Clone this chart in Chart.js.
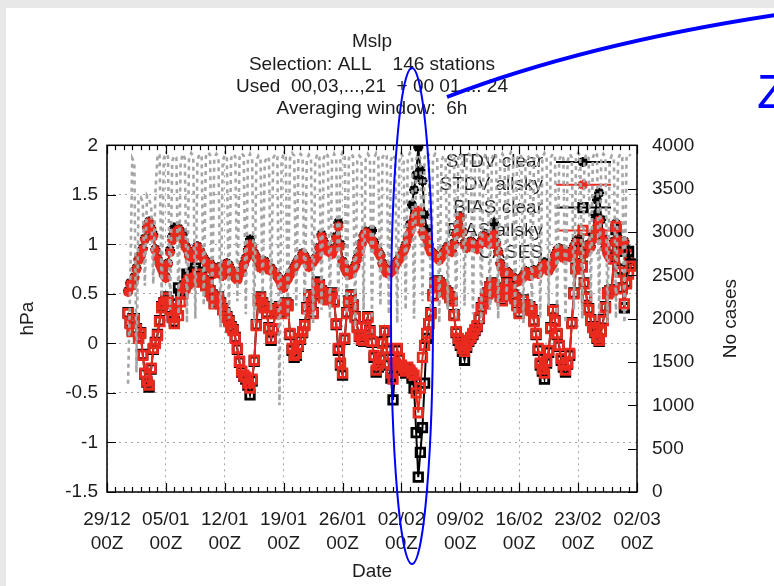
<!DOCTYPE html>
<html>
<head>
<meta charset="utf-8">
<script src="https://cdn.jsdelivr.net/npm/chart.js@4.4.1/dist/chart.umd.min.js"></script>
<style>
  html, body { margin: 0; padding: 0; background: #e8e8e8; }
  #panel { position: absolute; left: 6px; top: 8px; width: 768px; height: 578px; background: #fff; }
  #mslpChart { position: absolute; left: 0; top: 0; }
</style>
</head>
<body>
<div id="panel"></div>
<canvas id="mslpChart" width="774" height="586"></canvas>
<script>
// Mslp verification, 146 stations, 6h averaging window
const titleLines = ['Mslp', 'Selection: ALL    146 stations', 'Used  00,03,...,21  + 00 01 ... 24', 'Averaging window:  6h'];
const weekLabels = [['29/12', '00Z'], ['05/01', '00Z'], ['12/01', '00Z'], ['19/01', '00Z'], ['26/01', '00Z'],
                    ['02/02', '00Z'], ['09/02', '00Z'], ['16/02', '00Z'], ['23/02', '00Z'], ['02/03', '00Z']];

// first sample in days since 29/12 00Z, then one sample every 6h
const firstDay = 2.5, stepDays = 0.25;

const stdvClear = [
  0.53, 0.61, 0.59, 0.67, 0.76, 0.85, 0.89, 0.96, 1.06, 1.17,
  1.23, 1.16, 1.10, 0.95, 0.86, 0.81, 0.76, 0.70, 0.67, 0.81,
  0.94, 1.08, 1.17, 1.12, 1.16, 1.13, 1.10, 1.00, 0.96, 0.89,
  0.91, 0.87, 0.89, 0.98, 0.95, 0.90, 0.86, 0.83, 0.78, 0.81,
  0.75, 0.71, 0.73, 0.77, 0.71, 0.69, 0.75, 0.81, 0.79, 0.74,
  0.71, 0.67, 0.65, 0.71, 0.73, 0.80, 0.86, 0.95, 1.05, 0.98,
  0.91, 0.87, 0.83, 0.77, 0.78, 0.83, 0.79, 0.75, 0.76, 0.73,
  0.71, 0.68, 0.65, 0.59, 0.57, 0.63, 0.66, 0.70, 0.73, 0.77,
  0.81, 0.85, 0.86, 0.91, 0.88, 0.83, 0.78, 0.81, 0.83, 0.86,
  0.88, 0.97, 1.10, 1.03, 0.98, 0.94, 0.93, 0.91, 0.96, 1.08,
  1.22, 1.00, 0.83, 0.77, 0.72, 0.70, 0.71, 0.75, 0.79, 0.86,
  0.93, 1.01, 1.09, 1.13, 1.12, 1.10, 1.14, 1.02, 0.96, 0.93,
  0.89, 0.81, 0.76, 0.72, 0.71, 0.73, 0.75, 0.79, 0.83, 0.86,
  0.89, 0.94, 0.99, 1.08, 1.20, 1.40, 1.55, 1.70, 1.98, 1.75,
  1.64, 1.30, 1.15, 1.00, 0.93, 0.91, 0.89, 0.87, 0.85, 0.88,
  0.91, 0.95, 0.98, 0.96, 0.93, 1.01, 1.11, 1.20, 1.28, 1.13,
  1.01, 0.97, 0.99, 1.03, 1.01, 0.98, 0.96, 1.00, 1.03, 1.09,
  1.06, 1.03, 1.01, 1.06, 1.22, 1.02, 0.93, 0.81, 0.75, 0.71,
  0.73, 0.71, 0.69, 0.67, 0.65, 0.63, 0.64, 0.66, 0.68, 0.73,
  0.71, 0.69, 0.71, 0.74, 0.73, 0.71, 0.75, 0.79, 0.82, 0.77,
  0.74, 0.78, 0.81, 0.89, 0.94, 0.96, 0.91, 0.87, 0.89, 0.92,
  0.88, 0.93, 0.98, 1.03, 1.05, 0.98, 0.93, 0.91, 0.96, 1.00,
  0.98, 1.10, 1.30, 1.45, 1.52, 1.25, 1.06, 0.97, 0.91, 0.87,
  0.88, 1.03, 1.21, 1.06, 0.94, 0.98, 1.03, 0.95, 0.86, 0.83
];
const stdvAllsky = [
  0.52, 0.60, 0.58, 0.66, 0.75, 0.84, 0.88, 0.95, 1.05, 1.16,
  1.22, 1.15, 1.08, 0.94, 0.85, 0.80, 0.75, 0.69, 0.66, 0.80,
  0.92, 1.04, 1.12, 1.08, 1.15, 1.10, 1.05, 0.98, 0.95, 0.88,
  0.90, 0.86, 0.88, 0.97, 0.94, 0.89, 0.85, 0.82, 0.77, 0.80,
  0.74, 0.70, 0.72, 0.76, 0.70, 0.68, 0.74, 0.80, 0.78, 0.73,
  0.70, 0.66, 0.64, 0.70, 0.72, 0.79, 0.85, 0.93, 1.00, 0.97,
  0.90, 0.86, 0.82, 0.76, 0.77, 0.82, 0.78, 0.74, 0.75, 0.72,
  0.70, 0.67, 0.64, 0.58, 0.56, 0.62, 0.65, 0.69, 0.72, 0.76,
  0.80, 0.84, 0.85, 0.90, 0.87, 0.82, 0.77, 0.80, 0.82, 0.85,
  0.87, 0.96, 1.08, 1.02, 0.97, 0.93, 0.92, 0.90, 0.95, 1.06,
  1.18, 0.98, 0.82, 0.76, 0.72, 0.69, 0.70, 0.74, 0.78, 0.85,
  0.92, 1.00, 1.08, 1.12, 1.10, 1.06, 1.04, 0.99, 0.95, 0.92,
  0.88, 0.80, 0.75, 0.71, 0.70, 0.72, 0.74, 0.78, 0.82, 0.85,
  0.88, 0.93, 0.98, 1.05, 1.12, 1.20, 1.27, 1.31, 1.34, 1.22,
  1.12, 1.08, 1.05, 0.97, 0.92, 0.90, 0.88, 0.86, 0.84, 0.87,
  0.90, 0.94, 0.97, 0.95, 0.92, 1.00, 1.10, 1.19, 1.27, 1.12,
  1.00, 0.96, 0.98, 1.02, 1.00, 0.97, 0.95, 0.99, 1.02, 1.08,
  1.05, 1.02, 1.00, 1.04, 1.10, 1.00, 0.92, 0.80, 0.74, 0.70,
  0.72, 0.70, 0.68, 0.66, 0.64, 0.62, 0.63, 0.65, 0.67, 0.72,
  0.70, 0.68, 0.70, 0.73, 0.72, 0.70, 0.74, 0.78, 0.80, 0.76,
  0.73, 0.77, 0.80, 0.88, 0.93, 0.95, 0.90, 0.86, 0.88, 0.91,
  0.87, 0.92, 0.97, 1.02, 1.04, 0.97, 0.92, 0.90, 0.95, 0.99,
  0.97, 1.05, 1.12, 1.18, 1.24, 1.12, 1.04, 0.96, 0.90, 0.86,
  0.87, 1.02, 1.20, 1.05, 0.93, 0.97, 1.02, 0.94, 0.85, 0.82
];
const biasClear = [
  0.31, 0.21, 0.13, 0.25, 0.15, 0.06, 0.11, -0.11, -0.31, -0.39,
  -0.44, -0.26, -0.06, 0.01, 0.09, 0.23, 0.37, 0.41, 0.47, 0.43,
  0.35, 0.27, 0.22, 0.40, 0.56, 0.50, 0.52, 0.58, 0.70, 0.68,
  0.70, 0.72, 0.76, 0.72, 0.64, 0.67, 0.63, 0.59, 0.61, 0.53,
  0.49, 0.41, 0.45, 0.47, 0.41, 0.35, 0.31, 0.27, 0.23, 0.17,
  0.14, 0.06, -0.06, -0.19, -0.29, -0.33, -0.36, -0.42, -0.52, -0.38,
  -0.18, 0.19, 0.44, 0.47, 0.41, 0.37, 0.31, 0.16, 0.03, 0.14,
  0.31, 0.35, 0.37, 0.31, 0.35, 0.41, 0.39, 0.09, -0.07, -0.14,
  -0.12, -0.03, 0.04, 0.11, 0.19, 0.36, 0.49, 0.41, 0.31, 0.49,
  0.62, 0.59, 0.53, 0.47, 0.51, 0.45, 0.47, 0.51, 0.43, 0.19,
  -0.07, -0.22, -0.32, 0.04, 0.31, 0.43, 0.49, 0.39, 0.27, 0.17,
  0.07, 0.03, 0.02, 0.17, 0.27, 0.13, 0.01, -0.14, -0.29, -0.24,
  -0.16, 0.01, 0.12, -0.07, -0.22, -0.35, -0.57, -0.25, -0.07, -0.16,
  -0.24, -0.27, -0.30, -0.26, -0.29, -0.35, -0.45, -0.90, -1.35, -1.10,
  -0.85, -0.40, 0.05, 0.20, 0.31, 0.49, 0.61, 0.63, 0.61, 0.59,
  0.57, 0.53, 0.51, 0.47, 0.44, 0.29, 0.11, 0.03, -0.02, -0.08,
  -0.17, -0.04, 0.02, 0.05, 0.09, 0.13, 0.17, 0.25, 0.36, 0.41,
  0.46, 0.51, 0.57, 0.61, 0.59, 0.56, 0.53, 0.48, 0.44, 0.53,
  0.61, 0.57, 0.54, 0.49, 0.46, 0.39, 0.31, 0.37, 0.44, 0.39,
  0.35, 0.37, 0.34, 0.23, 0.09, -0.07, -0.22, -0.28, -0.36, -0.20,
  -0.09, 0.16, 0.34, 0.23, 0.09, -0.03, -0.17, -0.24, -0.29, -0.21,
  -0.12, 0.21, 0.51, 0.76, 1.02, 0.89, 0.78, 0.61, 0.47, 0.35,
  0.24, 0.17, 0.11, 0.05, 0.02, 0.13, 0.24, 0.37, 0.51, 0.53,
  0.54, 0.86, 1.15, 0.93, 0.75, 0.56, 0.36, 0.62, 0.93, 0.80
];
const biasAllsky = [
  0.30, 0.20, 0.12, 0.24, 0.14, 0.05, 0.10, -0.12, -0.30, -0.38,
  -0.42, -0.25, -0.05, 0.00, 0.08, 0.22, 0.36, 0.40, 0.46, 0.42,
  0.34, 0.26, 0.20, 0.35, 0.28, 0.42, 0.50, 0.56, 0.60, 0.64,
  0.65, 0.62, 0.66, 0.70, 0.63, 0.66, 0.62, 0.58, 0.60, 0.52,
  0.48, 0.40, 0.44, 0.46, 0.40, 0.34, 0.30, 0.26, 0.22, 0.16,
  0.13, 0.05, -0.05, -0.18, -0.28, -0.32, -0.34, -0.40, -0.45, -0.36,
  -0.17, 0.18, 0.43, 0.46, 0.40, 0.36, 0.30, 0.15, 0.05, 0.15,
  0.30, 0.34, 0.36, 0.30, 0.34, 0.40, 0.38, 0.10, -0.05, -0.12,
  -0.10, -0.02, 0.05, 0.12, 0.18, 0.35, 0.48, 0.40, 0.30, 0.48,
  0.60, 0.58, 0.52, 0.46, 0.50, 0.44, 0.46, 0.50, 0.42, 0.20,
  -0.05, -0.20, -0.30, 0.05, 0.30, 0.42, 0.48, 0.38, 0.26, 0.16,
  0.08, 0.04, 0.03, 0.16, 0.26, 0.12, 0.02, -0.12, -0.27, -0.22,
  -0.15, 0.00, 0.13, -0.05, -0.20, -0.30, -0.36, -0.20, -0.05, -0.15,
  -0.22, -0.25, -0.28, -0.24, -0.27, -0.30, -0.32, -0.50, -0.70, -0.45,
  -0.14, -0.02, 0.10, 0.20, 0.30, 0.48, 0.60, 0.62, 0.60, 0.58,
  0.56, 0.52, 0.50, 0.46, 0.43, 0.28, 0.12, 0.05, 0.00, -0.05,
  -0.08, -0.02, 0.03, 0.06, 0.10, 0.14, 0.18, 0.26, 0.35, 0.40,
  0.45, 0.50, 0.56, 0.60, 0.58, 0.55, 0.52, 0.47, 0.43, 0.52,
  0.60, 0.56, 0.53, 0.48, 0.45, 0.38, 0.30, 0.36, 0.43, 0.38,
  0.34, 0.36, 0.33, 0.22, 0.10, -0.05, -0.20, -0.26, -0.30, -0.18,
  -0.07, 0.15, 0.33, 0.22, 0.10, -0.02, -0.15, -0.22, -0.27, -0.20,
  -0.10, 0.20, 0.50, 0.75, 1.00, 0.88, 0.77, 0.60, 0.46, 0.34,
  0.23, 0.16, 0.12, 0.06, 0.03, 0.12, 0.23, 0.36, 0.50, 0.52,
  0.53, 0.85, 1.18, 0.95, 0.72, 0.55, 0.40, 0.60, 0.70, 0.78
];
// number of cases per 6h window (right axis)
const cases = [
  1250, 2350, 3850, 3800,  1380, 3380, 3400, 3350,  2380, 3420, 3380, 3300,  2400, 3450, 3880, 3900,
  2250, 3850, 3900, 3870,  2100, 3820, 3880, 3860,  2050, 3800, 3900, 3850,  1950, 3850, 3910, 3880,
  2000, 3830, 3900, 3860,  2150, 3870, 3920, 3890,  2100, 3850, 3900, 3860,  1900, 3820, 3890, 3850,
  2000, 3850, 3900, 3870,  2200, 3860, 3910, 3880,  2050, 3840, 3900, 3850,  1950, 3820, 3880, 3850,
  2250, 3800, 3870, 3840,  2100, 3850, 3900, 3870,  1000, 3830, 3900, 3860,  2000, 3850, 3910, 3880,
  2150, 3860, 3900, 3870,  2050, 3840, 3890, 3850,  1950, 3820, 3900, 3860,  2100, 3850, 3910, 3880,
  2000, 3830, 3900, 3850,  2200, 3860, 3920, 3890,  2050, 3850, 3900, 3870,  1900, 3820, 3880, 3850,
  2100, 3840, 3900, 3860,  2000, 3850, 3910, 3870,  2150, 3860, 3900, 3880,  2050, 3830, 3890, 3850,
  1950, 3820, 3900, 3860,  2100, 3850, 3910, 3880,  2000, 3840, 3900, 3850,  2200, 3860, 3920, 3890,
  2050, 3850, 3900, 3870,  1950, 3820, 3880, 3850,  2100, 3840, 3900, 3860,  2000, 3850, 3910, 3870,
  2150, 3860, 3900, 3880,  2050, 3830, 3890, 3850,  1950, 3820, 3900, 3860,  2100, 3850, 3910, 3880,
  2000, 3840, 3900, 3850,  2200, 3860, 3920, 3890,  2050, 3850, 3900, 3870,  1950, 3820, 3880, 3850,
  2100, 3840, 3900, 3860,  2000, 3850, 3910, 3870,  2150, 3860, 3900, 3880,  2050, 3830, 3890, 3850,
  1950, 3820, 3900, 3860,  2100, 3850, 3910, 3880,  2000, 3840, 3900, 3850,  2200, 3860, 3920, 3890,
  2050, 3850, 3900, 3870,  1950, 3820, 3880, 3850,  2000, 3840, 3900, 3860,  1950, 3850, 3900, 3880
];

const RED = '#ea2a1e';
const GREY = '#a5a5a5';
const TEXT = '#1c1c1c';
const FONT = "'Liberation Sans', Arial, sans-serif";
const FS = 19;

function toPoints(vals) {
  return vals.map((v, i) => ({ x: firstDay + i * stepDays, y: v }));
}

Chart.defaults.font.family = FONT;
Chart.defaults.font.size = FS;
Chart.defaults.color = TEXT;

// star / open square markers, also used for the key
function drawMarker(ctx, style, x, y, r) {
  ctx.beginPath();
  if (style === 'star') {
    const d = r * Math.SQRT1_2;
    ctx.moveTo(x - r, y); ctx.lineTo(x + r, y);
    ctx.moveTo(x, y - r); ctx.lineTo(x, y + r);
    ctx.moveTo(x - d, y - d); ctx.lineTo(x + d, y + d);
    ctx.moveTo(x - d, y + d); ctx.lineTo(x + d, y - d);
  } else {
    const s = r * Math.SQRT1_2;
    ctx.rect(x - s, y - s, 2 * s, 2 * s);
  }
  ctx.stroke();
}

const gnuplotFrame = {
  id: 'gnuplotFrame',
  beforeDatasetsDraw(chart) {
    // key: right-aligned text with a sample line on the right
    const ctx = chart.ctx;
    ctx.save();
    ctx.font = FS + 'px ' + FONT;
    ctx.textAlign = 'right';
    ctx.textBaseline = 'middle';
    chart.data.datasets.forEach((d, i) => {
      const y = 162 + i * 22.8;
      ctx.fillStyle = TEXT;
      ctx.fillText(d.label, 543, y);
      ctx.strokeStyle = d.borderColor;
      ctx.lineWidth = d.borderWidth;
      ctx.setLineDash(d.borderDash || []);
      ctx.beginPath(); ctx.moveTo(556, y); ctx.lineTo(611, y); ctx.stroke();
      ctx.setLineDash([]);
      if (d.pointRadius > 0) {
        ctx.lineWidth = d.pointBorderWidth;
        drawMarker(ctx, d.pointStyle, 583, y, d.pointRadius);
      }
    });
    ctx.restore();
  },
  afterDatasetsDraw(chart) {
    const { ctx, chartArea: a, scales } = chart;
    ctx.save();
    ctx.strokeStyle = '#000';
    ctx.lineWidth = 1.2;
    ctx.beginPath();
    // daily minor ticks on bottom and top
    for (let d = 0; d <= 63; d++) {
      const x = Math.round(scales.x.getPixelForValue(d)) + 0.5;
      const len = d % 7 === 0 ? 9 : 5;
      ctx.moveTo(x, a.bottom); ctx.lineTo(x, a.bottom - len);
      ctx.moveTo(x, a.top); ctx.lineTo(x, a.top + len);
    }
    scales.y.ticks.forEach(t => {
      const y = Math.round(scales.y.getPixelForValue(t.value)) + 0.5;
      ctx.moveTo(a.left, y); ctx.lineTo(a.left + 9, y);
    });
    scales.y2.ticks.forEach(t => {
      const y = Math.round(scales.y2.getPixelForValue(t.value)) + 0.5;
      ctx.moveTo(a.right, y); ctx.lineTo(a.right - 9, y);
    });
    ctx.stroke();
    ctx.lineWidth = 1.5;
    ctx.strokeRect(a.left, a.top, a.right - a.left, a.bottom - a.top);
    ctx.restore();
  },
  afterDraw(chart) {
    const { ctx, chartArea: a } = chart;
    ctx.save();
    // right axis title, reading bottom to top
    ctx.fillStyle = TEXT;
    ctx.font = FS + 'px ' + FONT;
    ctx.textAlign = 'center';
    ctx.textBaseline = 'middle';
    ctx.translate(731, (a.top + a.bottom) / 2);
    ctx.rotate(-Math.PI / 2);
    ctx.fillText('No cases', 0, 0);
    ctx.restore();

    // hand-drawn blue highlight around the 02/02 event
    ctx.save();
    ctx.strokeStyle = '#0000ff';
    ctx.lineWidth = 2;
    ctx.beginPath();
    ctx.ellipse(412, 316, 21, 248, 0, 0, Math.PI * 2);
    ctx.stroke();
    ctx.lineWidth = 4;
    ctx.beginPath();
    ctx.moveTo(447, 97);
    ctx.quadraticCurveTo(585, 44, 776, 15);
    ctx.stroke();
    ctx.fillStyle = '#0000ff';
    ctx.font = '49px ' + FONT;
    ctx.textAlign = 'left';
    ctx.textBaseline = 'alphabetic';
    ctx.fillText('Z', 757, 108);
    ctx.restore();
  }
};

const lineDefaults = { tension: 0, spanGaps: true, pointHoverRadius: 0, borderWidth: 2, pointBorderWidth: 2.8 };

new Chart(document.getElementById('mslpChart'), {
  type: 'line',
  data: {
    datasets: [
      { ...lineDefaults, label: 'STDV clear', data: toPoints(stdvClear), yAxisID: 'y',
        borderColor: '#000', pointStyle: 'star', pointRadius: 5, pointBorderColor: '#000', order: 5 },
      { ...lineDefaults, label: 'STDV allsky', data: toPoints(stdvAllsky), yAxisID: 'y',
        borderColor: RED, pointStyle: 'star', pointRadius: 5, pointBorderColor: RED, order: 4 },
      { ...lineDefaults, label: 'BIAS clear', data: toPoints(biasClear), yAxisID: 'y',
        borderColor: '#000', pointStyle: 'rect', pointRadius: 6, pointBorderColor: '#000',
        pointBackgroundColor: 'rgba(0,0,0,0)', order: 3 },
      { ...lineDefaults, label: 'BIAS allsky', data: toPoints(biasAllsky), yAxisID: 'y',
        borderColor: RED, pointStyle: 'rect', pointRadius: 6, pointBorderColor: RED,
        pointBackgroundColor: 'rgba(0,0,0,0)', order: 2 },
      { ...lineDefaults, label: 'CASES', data: toPoints(cases), yAxisID: 'y2',
        borderColor: GREY, borderWidth: 2.6, borderDash: [4, 4], pointRadius: 0, order: 1 }
    ]
  },
  options: {
    responsive: false,
    animation: false,
    events: [],
    layout: { padding: 0 },
    plugins: {
      legend: { display: false },
      tooltip: { enabled: false },
      title: {
        display: true,
        fullSize: false,
        text: titleLines,
        color: TEXT,
        font: { size: FS, weight: 'normal', lineHeight: 1.175 },
        padding: { top: 31, bottom: 25 }
      }
    },
    scales: {
      x: {
        type: 'linear',
        min: 0,
        max: 63,
        afterFit(s) { s.height = 94; },
        grid: { color: GREY, lineWidth: 1, drawTicks: false },
        border: { display: false, dash: [2, 4] },
        ticks: {
          stepSize: 7,
          autoSkip: false,
          maxRotation: 0,
          padding: 16,
          font: { size: FS, lineHeight: 1.26 },
          callback: v => weekLabels[Math.round(v / 7)]
        },
        title: { display: true, text: 'Date', font: { size: FS }, padding: { top: 0, bottom: 3 } }
      },
      y: {
        position: 'left',
        min: -1.5,
        max: 2,
        afterFit(s) { s.width = 107; },
        grid: { color: GREY, lineWidth: 1, drawTicks: false },
        border: { display: false, dash: [2, 4] },
        ticks: { stepSize: 0.5, padding: 9, callback: v => String(v) },
        title: { display: true, text: 'hPa', font: { size: FS }, padding: { top: 16, bottom: 0 } }
      },
      y2: {
        position: 'right',
        min: 0,
        max: 4000,
        afterFit(s) { s.width = 137; },
        grid: { drawOnChartArea: false, drawTicks: false },
        border: { display: false },
        ticks: { stepSize: 500, padding: 15, callback: v => String(v) }
      }
    }
  },
  plugins: [gnuplotFrame]
});
</script>
</body>
</html>
